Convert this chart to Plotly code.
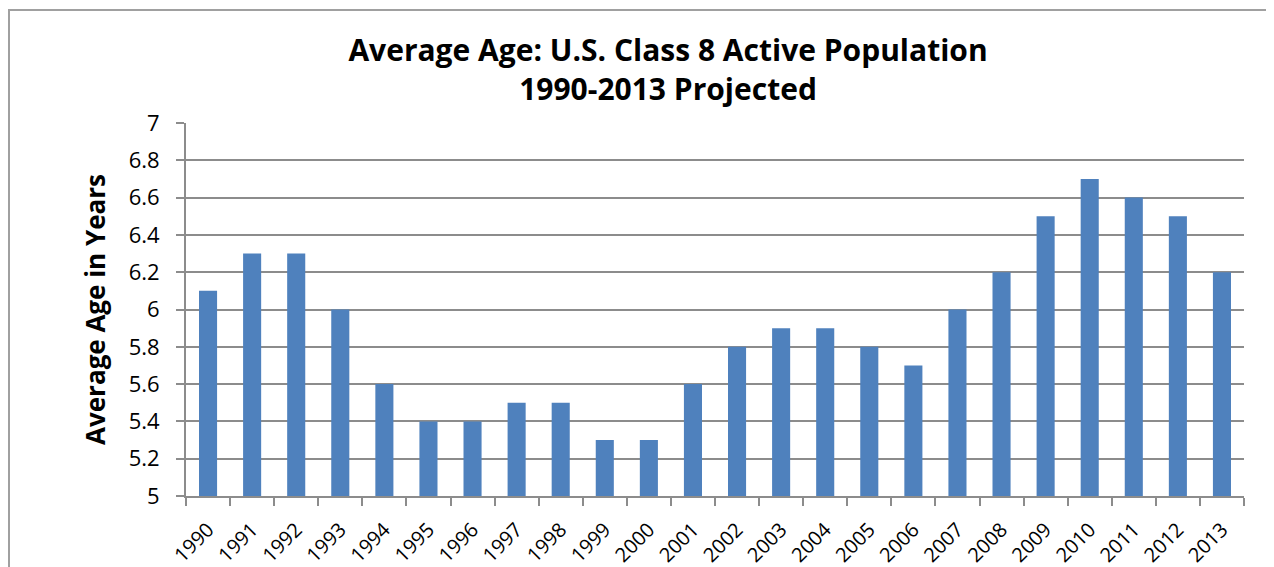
import plotly.graph_objects as go

years = [str(y) for y in range(1990, 2014)]
avg_age = [6.1, 6.3, 6.3, 6.0, 5.6, 5.4, 5.4, 5.5, 5.5, 5.3, 5.3, 5.6,
           5.8, 5.9, 5.9, 5.8, 5.7, 6.0, 6.2, 6.5, 6.7, 6.6, 6.5, 6.2]
y_ticks = [5, 5.2, 5.4, 5.6, 5.8, 6, 6.2, 6.4, 6.6, 6.8, 7]
y_tick_text = ["5", "5.2", "5.4", "5.6", "5.8", "6", "6.2", "6.4", "6.6", "6.8", "7"]

# page body has an 8px margin, so the figure sits at (8, 8)
OFF = 8
W, H = 1274 - OFF, 567 - OFF
ml, mr, mt, mb = 186 - OFF, 30, 123 - OFF, 71
pw, ph = W - ml - mr, H - mt - mb

fig = go.Figure(go.Bar(x=years, y=avg_age, marker=dict(color="#4F81BD", line=dict(width=0))))

font = "Open Sans"
grid = "#8c8c8c"
fig.update_layout(
    width=W, height=H,
    margin=dict(l=ml, r=mr, t=mt, b=mb, autoexpand=False),
    paper_bgcolor="white", plot_bgcolor="white",
    bargap=0.59,
    showlegend=False,
    title=dict(text="<b>Average Age: U.S. Class 8 Active Population<br>1990-2013 Projected</b>",
               x=(668 - OFF) / W, xanchor="center", y=(H - (61 - OFF)) / H, yanchor="middle",
               font=dict(family=font, size=30, color="black")),
    font=dict(family=font, color="black"),
    xaxis=dict(type="category", tickangle=-45, tickfont=dict(size=20, family=font),
               showline=True, linecolor=grid, linewidth=2,
               ticks="outside", ticklen=8, tickwidth=2, tickcolor=grid,
               ticklabelstandoff=12,
               tickson="boundaries", showgrid=False, automargin=False),
    yaxis=dict(range=[5, 7], tickvals=y_ticks, ticktext=y_tick_text,
               tickfont=dict(size=22, family=font),
               showline=True, linecolor=grid, linewidth=2,
               ticks="outside", ticklen=8, tickwidth=2, tickcolor=grid,
               ticklabelstandoff=12,
               showgrid=True, gridcolor=grid, gridwidth=2, zeroline=False,
               title=dict(text="<b>Average Age in Years</b>", font=dict(size=26, family=font),
                          standoff=16),
               automargin=False),
)

# outer chart frame (partially visible, as in a cropped spreadsheet chart)
fig.add_shape(type="rect", xref="paper", yref="paper",
              x0=(1 - ml) / pw, x1=(W + 20 - ml) / pw,
              y0=-(H + 20 - mt - ph) / ph - 0.05, y1=(mt + ph - 2) / ph,
              line=dict(color="#a0a0a0", width=2), fillcolor="rgba(0,0,0,0)", layer="below")

fig.write_html("out.html")
